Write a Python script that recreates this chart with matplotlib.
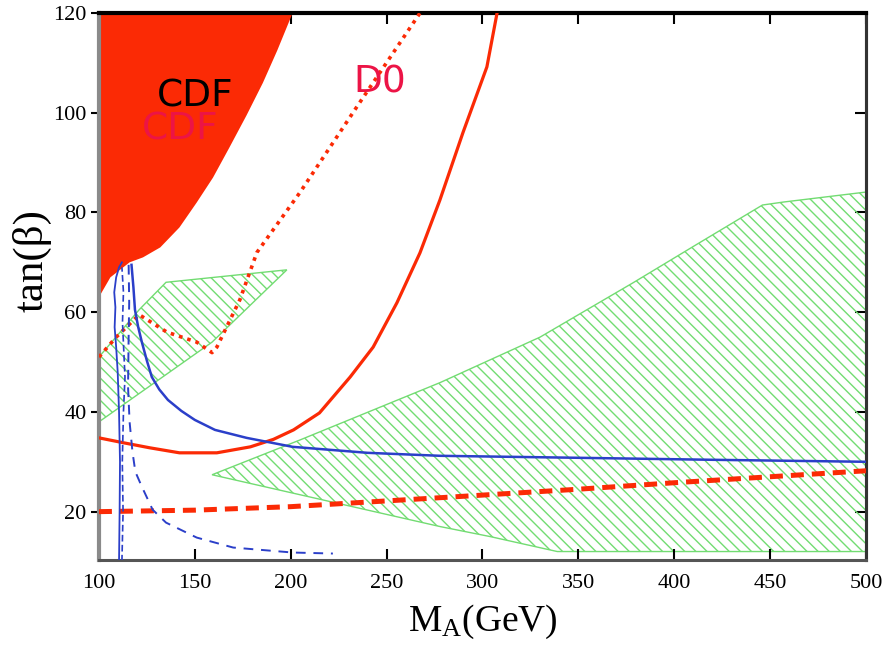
import matplotlib.pyplot as plt
import numpy as np

plt.rcParams['mathtext.fontset'] = 'custom'
plt.rcParams['mathtext.rm'] = 'Liberation Serif'
plt.rcParams['mathtext.it'] = 'Liberation Serif:italic'

# CDF excluded region (filled)
cdf_x = [100, 100, 106, 116, 123, 132, 142, 151, 159.5, 168, 177, 185.5, 193, 201]
cdf_y = [120, 63, 67, 70, 71, 73, 77, 82, 87, 93, 99.5, 106, 112.5, 120]

# green hatched regions
green1_x = [100, 121, 135, 198, 159, 100]
green1_y = [51, 60.5, 66, 68.5, 54, 38]
green2_x = [159, 205, 278, 330, 378.5, 413, 446, 457, 500, 500, 339, 304, 278]
green2_y = [27.4, 34.4, 45.9, 55, 65.9, 73.9, 81.5, 82.1, 84.1, 12, 12, 15, 17]

# D0 dotted contour
d0_x = [100, 109, 121, 135.5, 151, 159, 161.5, 173.5, 182.4, 204.8, 234.5, 267.4]
d0_y = [51, 55, 59.5, 56, 54, 51.9, 53, 62.5, 72, 84, 101.2, 120]

# red solid contour
red_x = [100, 113, 126.6, 142, 161.5, 179, 191, 201.5, 215, 231, 243, 255.4,
         267.4, 277.8, 289.8, 302.3, 307.6]
red_y = [34.8, 33.8, 32.8, 31.8, 31.8, 33, 34.5, 36.4, 39.8, 47, 53, 61.9,
         71.9, 82.5, 96, 109.2, 120]

# red dashed contour
reddash_x = [100, 150, 200, 278, 350, 400, 450, 500]
reddash_y = [20, 20.3, 21, 22.8, 24.5, 25.8, 27, 28.2]

# blue solid contour
blue_x = [117, 118, 118.8, 120.5, 122.4, 125, 127.6, 131.5, 136, 143, 150, 160.5,
          177, 201, 240, 278, 350, 420, 500]
blue_y = [69.5, 65, 60.5, 57, 54, 50.3, 47, 44.5, 42.4, 40.2, 38.4, 36.4,
          34.8, 33, 31.8, 31.2, 30.8, 30.4, 30.0]

# blue dashed contour
bluedash_x = [115.5, 115.8, 115.5, 115.2, 116, 117.5, 119, 122.4, 128, 135, 151, 170, 201, 222]
bluedash_y = [69.5, 62, 55, 45, 38, 32, 28, 25, 20.4, 17.8, 14.8, 12.8, 11.8, 11.6]

# narrow blue contours near M_A ~ 110
bluev1_x = [110.5, 110.8, 111.0, 110.5, 109.8, 109.0, 108.2, 108.6, 108.0, 109.0, 110.5, 112.0]
bluev1_y = [10, 20, 30, 40, 48, 53, 57, 61, 64, 67, 69, 70]
bluev2_x = [112.0, 112.6, 112.2, 112.8, 113.6, 113.0, 112.3, 112.8, 112.0]
bluev2_y = [10, 20, 30, 40, 47, 52, 58, 64, 69]

x_ticks = [100, 150, 200, 250, 300, 350, 400, 450, 500]
y_ticks = [20, 40, 60, 80, 100, 120]

RED = '#fb2a05'
BLUE = '#2b3fc9'
GREEN = '#72dc72'

fig = plt.figure(figsize=(8.91, 6.53), dpi=100)
ax = fig.add_axes([0.111, 0.1424, 0.861, 0.8376])

ax.fill(cdf_x, cdf_y, color=RED, lw=0, zorder=2)

plt.rcParams['hatch.linewidth'] = 1.0
for gx, gy in [(green1_x, green1_y), (green2_x, green2_y)]:
    ax.fill(gx, gy, facecolor='none', edgecolor=GREEN, hatch='\\\\\\', lw=1.0, zorder=1)

ax.plot(d0_x, d0_y, color=RED, lw=2.6, linestyle=(0, (1, 1.4)), zorder=3)
ax.plot(red_x, red_y, color=RED, lw=2.3, zorder=3)
ax.plot(reddash_x, reddash_y, color=RED, lw=3.6, linestyle=(0, (2.6, 1.6)), zorder=3)
ax.plot(blue_x, blue_y, color=BLUE, lw=1.8, zorder=4)
ax.plot(bluedash_x, bluedash_y, color=BLUE, lw=1.4, linestyle=(0, (5, 4)), zorder=4)
ax.plot(bluev1_x, bluev1_y, color=BLUE, lw=1.3, zorder=4)
ax.plot(bluev2_x, bluev2_y, color=BLUE, lw=1.2, linestyle=(0, (4, 2)), zorder=4)

ax.text(150, 103.2, 'CDF', color='black', fontsize=27, ha='center', va='center', zorder=5)
ax.text(142.2, 96.6, 'CDF', color='#ec1446', fontsize=27, ha='center', va='center', zorder=5)
ax.text(246.5, 106, 'D0', color='#ec1446', fontsize=27, ha='center', va='center', zorder=5)

ax.set_xlim(100, 500)
ax.set_ylim(10.3, 120)
ax.set_xticks(x_ticks)
ax.set_yticks(y_ticks)
ax.tick_params(axis='x', direction='in', top=True, length=8, width=1.5,
               pad=10, labelsize=16)
ax.tick_params(axis='y', direction='out', right=False, length=6, width=1.5,
               pad=3, labelsize=16)
for lab in ax.get_xticklabels() + ax.get_yticklabels():
    lab.set_family('Liberation Serif')

sec = ax.secondary_yaxis('right')
sec.set_yticks(y_ticks)
sec.tick_params(direction='in', length=8, width=1.5, labelright=False)
sec.spines['right'].set_linewidth(2.2)
sec.spines['right'].set_color('#333333')

ax.spines['left'].set_linewidth(3.0)
ax.spines['left'].set_color('#8a8a8a')
ax.spines['bottom'].set_linewidth(2.2)
ax.spines['bottom'].set_color('#555555')
ax.spines['top'].set_linewidth(3.0)
ax.spines['top'].set_color('black')
ax.spines['right'].set_linewidth(2.2)
ax.spines['right'].set_color('#333333')

ax.set_xlabel(r'$\mathrm{M_A}$(GeV)', fontsize=27, family='Liberation Serif')
ax.xaxis.set_label_coords(0.5, -0.079)
ax.set_ylabel('tan(β)', fontsize=31, family='Liberation Serif')
ax.yaxis.set_label_coords(-0.062, 0.548)

fig.savefig('out.png', dpi=100)
